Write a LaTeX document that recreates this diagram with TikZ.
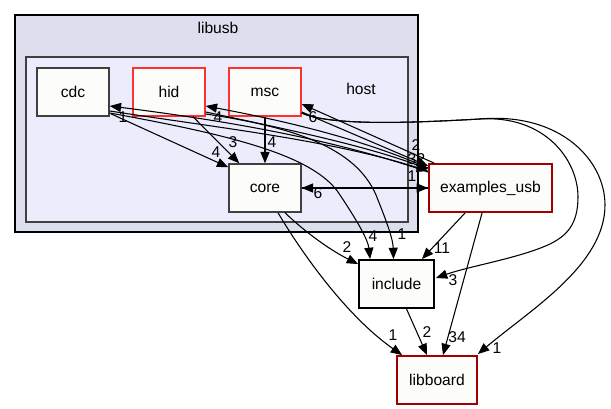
\documentclass[tikz,border=0pt]{standalone}
\usepackage{fontspec}
\setmainfont{Liberation Sans}
\usetikzlibrary{arrows.meta,calc}
\definecolor{outerfill}{HTML}{DDDFEE}
\definecolor{innerfill}{HTML}{EBEDFC}
\definecolor{nodefill}{HTML}{FCFDFB}
\definecolor{lightred}{HTML}{FF3030}
\definecolor{darkred}{HTML}{A00000}
\definecolor{grayedge}{HTML}{404040}
\tikzset{
  dirbox/.style={draw=grayedge, line width=1.1pt, fill=nodefill, minimum height=48*0.75pt, inner sep=0pt, font=\fontsize{11.7}{13}\selectfont},
  redbox/.style={dirbox, draw=lightred},
  darkbox/.style={dirbox, draw=darkred, line width=1.4pt},
  blackbox/.style={dirbox, draw=black, line width=1.4pt},
  edge/.style={draw=black, line width=0.8pt, -{Triangle[length=8.5pt,width=6.8pt]}},
  lbl/.style={font=\fontsize{11.7}{13}\selectfont, inner sep=0pt},
  clustertxt/.style={font=\fontsize{11.7}{13}\selectfont, inner sep=0pt}
}
\begin{document}
\begin{tikzpicture}[x=0.75pt,y=-0.75pt]
\useasboundingbox (0,0) rectangle (611,409);
% clusters
\draw[fill=outerfill, draw=black, line width=0.9pt] (15,15) rectangle (418,232);
\node[clustertxt] (libusb) at (218,28) {libusb};
\draw[fill=innerfill, draw=grayedge, line width=0.9pt] (26,57) rectangle (408,222);
\node[clustertxt] (host) at (361,89) {host};
% nodes
\node[dirbox, minimum width=72*0.75pt] (cdc) at (73,92) {cdc};
\node[redbox, minimum width=72*0.75pt] (hid) at (169,92) {hid};
\node[redbox, minimum width=72*0.75pt] (msc) at (265,92) {msc};
\node[dirbox, minimum width=72*0.75pt] (core) at (265,188) {core};
\node[darkbox, minimum width=123*0.75pt] (ex) at (490.5,188) {examples\_usb};
\node[blackbox, minimum width=75*0.75pt] (inc) at (396.5,284) {include};
\node[darkbox, minimum width=80*0.75pt] (lib) at (437,380) {libboard};
% edges to core
\draw[edge] ($(cdc.south east)+(1,-3)$) -- ($(core.north west)+(0,4)$);
\draw[edge] ($(hid.south)+(24,0)$) -- ($(core.north west)+(11,0)$);
\draw[edge] (msc.south) -- (core.north);
\draw[edge] (ex.west) -- (core.east);
\draw[edge] (core.east) -- (ex.west);
% host <-> examples_usb
\draw[edge] ($(ex.west)+(0,-16)$) .. controls (330,138) and (220,120) .. ($(cdc.east)+(0,14)$);
\draw[edge] ($(cdc.east)+(0,19)$) .. controls (220,128) and (330,140) .. ($(ex.west)+(0,-17)$);
\draw[edge] ($(ex.west)+(0,-20)$) .. controls (360,138) and (280,120) .. ($(hid.east)+(0,14)$);
\draw[edge] ($(hid.east)+(0,20)$) .. controls (280,128) and (360,144) .. ($(ex.west)+(0,-19)$);
\draw[edge] ($(ex.north west)+(6,0)$) -- ($(msc.east)+(0,12)$);
\draw[edge] ($(msc.east)+(0,20)$) -- ($(ex.west)+(0,-22)$);
% to include
\draw[edge] ($(cdc.east)+(0,21)$) .. controls (230,135) and (315,155) .. (340,195) .. controls (358,222) and (368,240) .. ($(inc.north west)+(12,0)$);
\draw[edge] ($(hid.east)+(0,22)$) .. controls (300,128) and (360,150) .. (378,200) .. controls (388,225) and (393,240) .. ($(inc.north)+(-3,0)$);
\draw[edge] ($(core.south)+(20,0)$) .. controls (305,232) and (330,250) .. ($(inc.north west)+(0,5)$);
\draw[edge] ($(ex.south west)+(37,0)$) -- ($(inc.north east)+(-13,0)$);
% msc loops
\draw[edge] ($(msc.east)+(0,21)$) .. controls (330,126) and (410,123) .. (480,119) .. controls (545,115) and (578,160) .. (578,197) .. controls (578,225) and (566,236) .. (550,244) .. controls (520,258) and (470,266) .. ($(inc.east)+(1,-6)$);
\draw[edge] ($(msc.east)+(0,21)$) .. controls (330,126) and (410,123) .. (480,119) .. controls (560,112) and (605,160) .. (605,205) .. controls (605,265) and (530,310) .. ($(lib.north east)+(0,-1)$);
% to libboard
\draw[edge] ($(core.south)+(13,0)$) .. controls (300,250) and (345,315) .. ($(lib.north west)+(6,0)$);
\draw[edge] ($(inc.south)+(10,0)$) -- ($(lib.north)+(-10,0)$);
\draw[edge] ($(ex.south west)+(54,0)$) -- ($(lib.north)+(6,0)$);
% labels
\node[lbl] (l1) at (216,152) {4};
\node[lbl] (l2) at (233,142) {3};
\node[lbl] (l3) at (272,142) {4};
\node[lbl] (l4) at (318,193) {6};
\node[lbl] (l5) at (412,176) {1};
\node[lbl] (l6) at (123,117) {1};
\node[lbl] (l7) at (218,117) {4};
\node[lbl] (l8) at (313,117) {6};
\node[lbl] (l9) at (416,145) {2};
\node[lbl] (l10) at (412,159) {3};
\node[lbl] (l11) at (421,159) {2};
\node[lbl] (l12) at (347,247) {2};
\node[lbl] (l13) at (373,236) {4};
\node[lbl] (l14) at (402,234) {1};
\node[lbl] (l15) at (442,248) {11};
\node[lbl] (l16) at (453,280) {3};
\node[lbl] (l17) at (393,335) {1};
\node[lbl] (l18) at (427,332) {2};
\node[lbl] (l19) at (457,337) {34};
\node[lbl] (l20) at (497,348) {1};
\end{tikzpicture}
\end{document}
